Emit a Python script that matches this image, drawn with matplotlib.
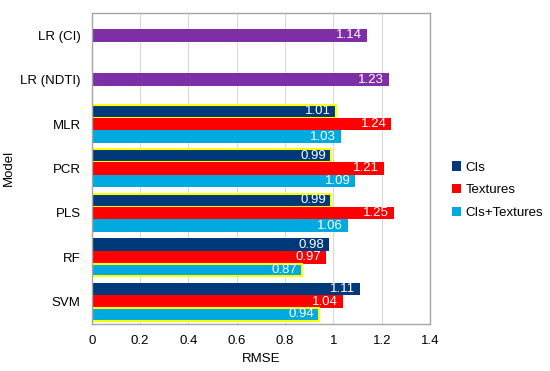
import matplotlib
matplotlib.use('Agg')
import matplotlib.pyplot as plt
from matplotlib.patches import Patch
import numpy as np

plt.rcParams['font.family'] = ['Liberation Sans', 'DejaVu Sans']

# Data
models = ['LR (CI)', 'LR (NDTI)', 'MLR', 'PCR', 'PLS', 'RF', 'SVM']
lr_values = [1.14, 1.23]
grouped_models = ['MLR', 'PCR', 'PLS', 'RF', 'SVM']
cis = [1.01, 0.99, 0.99, 0.98, 1.11]
textures = [1.24, 1.21, 1.25, 0.97, 1.04]
cis_textures = [1.03, 1.09, 1.06, 0.87, 0.94]
# which bar is highlighted (best) per model: 0=CIs, 2=CIs+Textures
best_idx = [0, 0, 0, 2, 2]

colors = {'CIs': '#00397A', 'Textures': '#FF0000', 'CIs+Textures': '#00A9E0'}
purple = '#7E2FA6'
highlight = '#FFFF00'

fig = plt.figure(figsize=(5.5, 3.71), dpi=100)
ax = fig.add_axes([0.167, 0.127, 0.615, 0.838])

h = 0.285
y = np.arange(len(models))

def label_bar(ax, x, yc):
    ax.text(x - 0.02, yc, f'{x:.2f}', ha='right', va='center',
            color='white', fontsize=9.5)

# single LR bars
for i, v in enumerate(lr_values):
    ax.barh(y[i], v, height=h, color=purple)
    label_bar(ax, v, y[i])

series = [('CIs', cis), ('Textures', textures), ('CIs+Textures', cis_textures)]
for s, (name, vals) in enumerate(series):
    offs = (s - 1) * h
    for j, v in enumerate(vals):
        yc = y[2 + j] + offs
        hl = best_idx[j] == s
        ax.barh(yc, v, height=h, color=colors[name],
                edgecolor=highlight if hl else 'none',
                linewidth=1.5 if hl else 0)
        label_bar(ax, v, yc)

ax.set_xlim(0, 1.4)
ax.set_ylim(len(models) - 0.5, -0.5)
ax.set_xticks(np.arange(0, 1.41, 0.2))
ax.set_xticklabels(['0', '0.2', '0.4', '0.6', '0.8', '1', '1.2', '1.4'])
ax.set_yticks(y)
ax.set_yticklabels(models)
ax.tick_params(axis='both', length=0, labelsize=9.5, colors='#000000')
ax.tick_params(axis='x', pad=8)
ax.tick_params(axis='y', pad=8)
ax.grid(True, axis='x', color='#D9D9D9', linewidth=0.8)
ax.set_axisbelow(True)
for sp in ax.spines.values():
    sp.set_color('#A6A6A6')
    sp.set_linewidth(1.0)

ax.set_xlabel('RMSE', fontsize=9.5, labelpad=4)
ax.set_ylabel('Model', fontsize=9.5, labelpad=4)

handles = [Patch(facecolor=colors[n], label=n) for n in colors]
ax.legend(handles=handles, loc='center left', bbox_to_anchor=(1.03, 0.43),
          frameon=False, fontsize=9.5, handlelength=0.7, handleheight=0.7,
          handletextpad=0.3, labelspacing=0.8)

fig.savefig('out.png', dpi=100)
